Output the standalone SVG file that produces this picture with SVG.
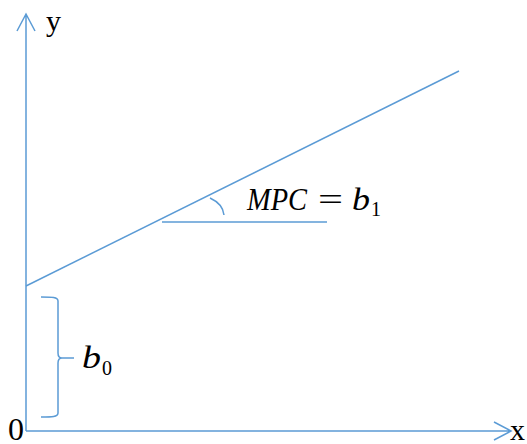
<svg xmlns="http://www.w3.org/2000/svg" width="527" height="444" viewBox="0 0 527 444">
<style>
.ln{fill:none;stroke:#5B9BD5;stroke-width:1.5;stroke-linejoin:miter}
.t{font-family:"Liberation Serif","Times New Roman",serif;fill:#000}
.i{font-style:italic}
</style>
<rect width="527" height="444" fill="#fff"/>
<g id="axes">
<path class="ln" d="M26,431 V14 M17,31 L26,14 L35,31"/>
<path class="ln" d="M26,431 H511 M494,422 L511,431 L494,440"/>
</g>
<g id="labels">
<text class="t" x="46" y="31" font-size="30">y</text>
<text class="t" x="510" y="440" font-size="30">x</text>
<text class="t" x="8" y="440" font-size="32">0</text>
</g>
<g id="connectors">
<path class="ln" d="M26,286 L459,71"/>
<path class="ln" d="M162,222 H327"/>
<path class="ln" d="M210,198 Q223,204 224,215"/>
</g>
<g id="mpc">
<text class="t" y="210" font-size="31"><tspan class="i" x="247" textLength="60" lengthAdjust="spacingAndGlyphs">MPC</tspan><tspan x="318" textLength="25" lengthAdjust="spacingAndGlyphs">=</tspan><tspan class="i" x="352" textLength="18" lengthAdjust="spacingAndGlyphs">b</tspan><tspan x="371" y="216" font-size="20">1</tspan></text>
</g>
<g id="b0">
<path class="ln" d="M41,297 C52,297 58,297 58,301 L58,353 Q58,358 62,358 L74,358 M62,358 Q58,358 58,363 L58,413 C58,417 52,417 41,417"/>
<text class="t" y="368" font-size="31"><tspan class="i" x="82" textLength="19" lengthAdjust="spacingAndGlyphs">b</tspan><tspan x="102" y="375" font-size="20">0</tspan></text>
</g>
</svg>
